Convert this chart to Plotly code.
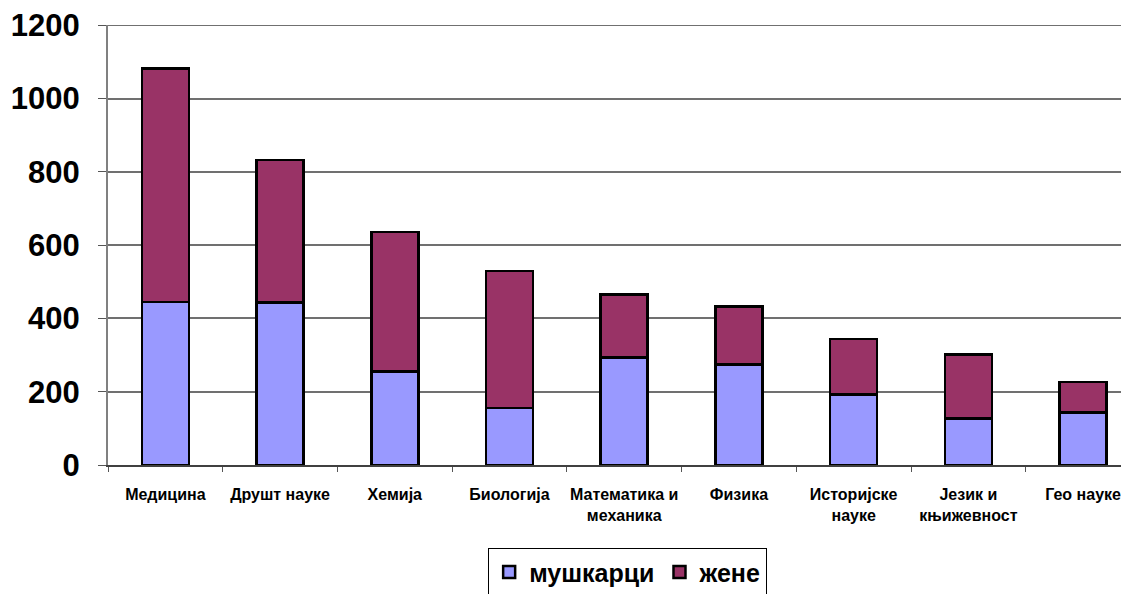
import plotly.graph_objects as go

categories = ['Медицина', 'Друшт науке', 'Хемија', 'Биологија', 'Математика и<br>механика',
              'Физика', 'Историјске<br>науке', 'Језик и<br>књижевност', 'Гео науке']
muskarci = [445, 444, 255, 155, 294, 275, 193, 127, 143]
zene = [637, 389, 381, 375, 172, 158, 151, 174, 83]
y_ticks = [0, 200, 400, 600, 800, 1000, 1200]

FONT = 'Liberation Sans, Arial, sans-serif'

fig = go.Figure()
fig.add_trace(go.Bar(
    x=categories, y=muskarci, name='мушкарци',
    marker=dict(color='#9999FF', line=dict(color='black', width=2.5))
))
fig.add_trace(go.Bar(
    x=categories, y=zene, name='жене',
    marker=dict(color='#993366', line=dict(color='black', width=2.5))
))

# top gridline at 1200 (plotly skips the one on the range edge)
fig.add_shape(type='line', xref='paper', x0=0, x1=1, yref='y', y0=y_ticks[-1], y1=y_ticks[-1],
              line=dict(color='#707070', width=1.5), layer='below')

# page body has an 8px margin, so margins are shifted by that
fig.update_layout(
    barmode='stack',
    bargap=0.59,
    width=1129, height=594,
    margin=dict(l=100, r=0, t=17, b=137, autoexpand=False),
    paper_bgcolor='white', plot_bgcolor='white',
    font=dict(family=FONT, color='black'),
    legend=dict(
        orientation='h', x=0.505, xanchor='center', y=-0.189, yanchor='top',
        font=dict(size=25, weight='bold'), bordercolor='black', borderwidth=1,
        itemwidth=30, traceorder='normal'
    ),
    showlegend=True,
)
fig.update_yaxes(
    range=[0, 1201], tickvals=y_ticks, automargin=False,
    tickfont=dict(size=31, weight='bold', family=FONT),
    ticklabelstandoff=12, ticklabeloverflow='allow',
    showgrid=True, gridcolor='#707070', gridwidth=1.5,
    showline=True, linecolor='#808080', linewidth=2,
    ticks='outside', ticklen=8, tickcolor='#555555',
    zeroline=False,
)
fig.update_xaxes(
    range=[-0.5, 8.47], automargin=False,
    tickfont=dict(size=16, weight='bold', family=FONT),
    ticklabelstandoff=14, ticklabeloverflow='allow',
    showgrid=False, showline=True, linecolor='#404040', linewidth=2,
    ticks='outside', tickson='boundaries', ticklen=5, tickcolor='#555555',
    tickangle=0,
)

fig.write_html('out.html')
